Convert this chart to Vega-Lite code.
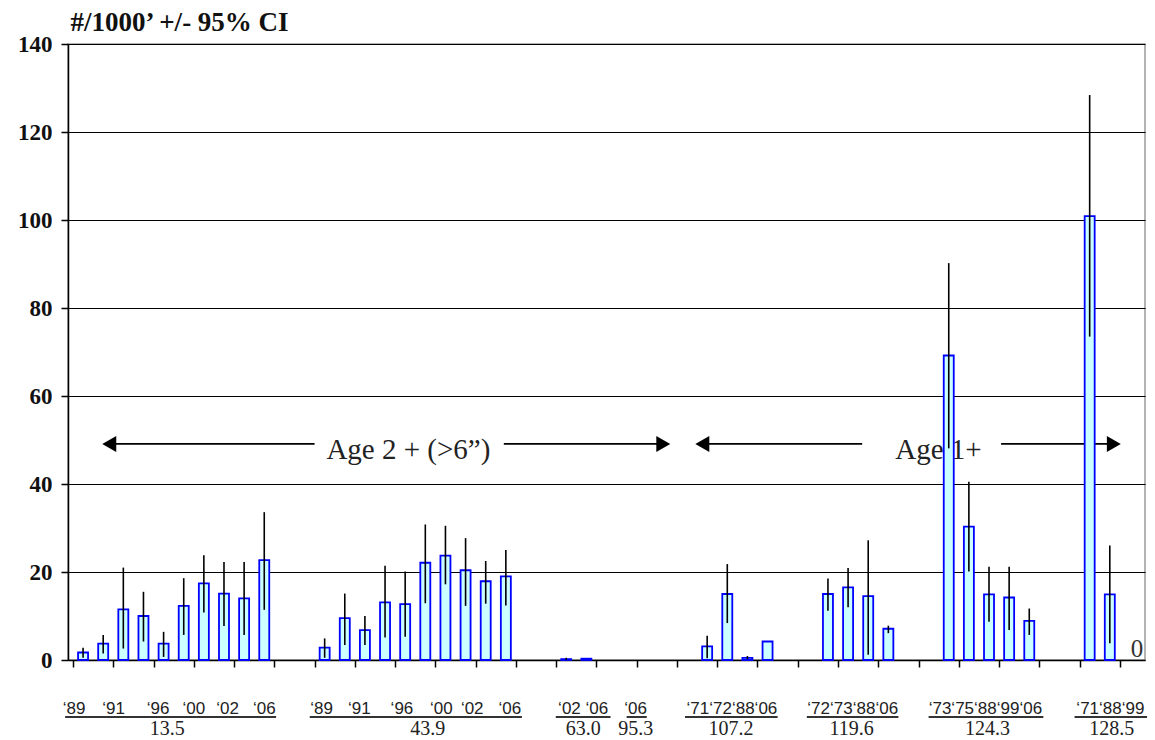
{
  "$schema": "https://vega.github.io/schema/vega-lite/v6.json",
  "width": 1077,
  "height": 616,
  "autosize": {"type": "none"},
  "padding": {"left": 68, "top": 44, "right": 10, "bottom": 80},
  "background": "white",
  "config": {"view": {"stroke": "#9a9a9a", "strokeWidth": 1.5}},
  "datasets": {
    "bars": [
      {"slot": 0, "group": "13.5", "v": 1.7, "lo": 0.5, "hi": 2.8},
      {"slot": 1, "group": "13.5", "v": 3.7, "lo": 1.5, "hi": 5.7},
      {"slot": 2, "group": "13.5", "v": 11.5, "lo": 2.6, "hi": 21.0},
      {"slot": 3, "group": "13.5", "v": 10.0, "lo": 4.2, "hi": 15.5},
      {"slot": 4, "group": "13.5", "v": 3.7, "lo": 0.7, "hi": 6.4},
      {"slot": 5, "group": "13.5", "v": 12.3, "lo": 5.7, "hi": 18.6},
      {"slot": 6, "group": "13.5", "v": 17.4, "lo": 10.8, "hi": 23.8},
      {"slot": 7, "group": "13.5", "v": 15.1, "lo": 7.7, "hi": 22.3},
      {"slot": 8, "group": "13.5", "v": 14.0, "lo": 5.7, "hi": 22.3},
      {"slot": 9, "group": "13.5", "v": 22.7, "lo": 11.4, "hi": 33.6},
      {"slot": 12, "group": "43.9", "v": 2.8, "lo": 0.5, "hi": 4.9},
      {"slot": 13, "group": "43.9", "v": 9.5, "lo": 3.4, "hi": 15.1},
      {"slot": 14, "group": "43.9", "v": 6.8, "lo": 3.4, "hi": 10.0},
      {"slot": 15, "group": "43.9", "v": 13.1, "lo": 5.1, "hi": 21.4},
      {"slot": 16, "group": "43.9", "v": 12.7, "lo": 5.3, "hi": 20.1},
      {"slot": 17, "group": "43.9", "v": 22.1, "lo": 12.9, "hi": 30.8},
      {"slot": 18, "group": "43.9", "v": 23.7, "lo": 17.2, "hi": 30.5},
      {"slot": 19, "group": "43.9", "v": 20.4, "lo": 12.3, "hi": 27.7},
      {"slot": 20, "group": "43.9", "v": 17.9, "lo": 12.8, "hi": 22.5},
      {"slot": 21, "group": "43.9", "v": 19.0, "lo": 12.4, "hi": 25.0},
      {"slot": 24, "group": "63.0", "v": 0.2, "lo": 0.0, "hi": 0.5},
      {"slot": 25, "group": "63.0", "v": 0.3},
      {"slot": 28, "group": "95.3", "v": 0},
      {"slot": 31, "group": "107.2", "v": 3.1, "lo": 0.4, "hi": 5.5},
      {"slot": 32, "group": "107.2", "v": 15.0, "lo": 8.4, "hi": 21.8},
      {"slot": 33, "group": "107.2", "v": 0.5, "lo": 0.2, "hi": 0.9},
      {"slot": 34, "group": "107.2", "v": 4.2},
      {"slot": 37, "group": "119.6", "v": 15.0, "lo": 11.2, "hi": 18.5},
      {"slot": 38, "group": "119.6", "v": 16.5, "lo": 12.0, "hi": 20.9},
      {"slot": 39, "group": "119.6", "v": 14.5, "lo": 1.2, "hi": 27.2},
      {"slot": 40, "group": "119.6", "v": 7.1, "lo": 6.1, "hi": 7.8},
      {"slot": 43, "group": "124.3", "v": 69.2, "lo": 48.1, "hi": 90.2},
      {"slot": 44, "group": "124.3", "v": 30.3, "lo": 20.1, "hi": 40.5},
      {"slot": 45, "group": "124.3", "v": 14.9, "lo": 8.7, "hi": 21.2},
      {"slot": 46, "group": "124.3", "v": 14.2, "lo": 6.8, "hi": 21.2},
      {"slot": 47, "group": "124.3", "v": 8.9, "lo": 5.7, "hi": 11.7},
      {"slot": 50, "group": "128.5", "v": 100.9, "lo": 73.5, "hi": 128.4},
      {"slot": 51, "group": "128.5", "v": 14.9, "lo": 3.8, "hi": 26.0},
      {"slot": 52, "group": "128.5", "v": 0}
    ],
    "segs": [
      {"s": 1.3, "e": 11.5, "y": 49.1},
      {"s": 20.9, "e": 28.8, "y": 49.1},
      {"s": 30.8, "e": 38.7, "y": 49.1},
      {"s": 45.6, "e": 51.2, "y": 49.1}
    ],
    "heads": [
      {"c": 1.3, "y": 49.1, "dir": "left"},
      {"c": 28.82, "y": 49.1, "dir": "right"},
      {"c": 30.76, "y": 49.1, "dir": "left"},
      {"c": 51.2, "y": 49.1, "dir": "right"}
    ],
    "notes": [
      {"t": "Age 2 + (>6”)", "c": 16.16, "y": 45.6},
      {"t": "Age 1+", "c": 42.49, "y": 45.6}
    ],
    "years": [
      {"t": "‘89", "c": -0.45},
      {"t": "‘91", "c": 1.52},
      {"t": "‘96", "c": 3.73},
      {"t": "‘00", "c": 5.5},
      {"t": "‘02", "c": 7.18},
      {"t": "‘06", "c": 9.0},
      {"t": "‘89", "c": 11.85},
      {"t": "‘91", "c": 13.72},
      {"t": "‘96", "c": 15.84},
      {"t": "‘00", "c": 17.8},
      {"t": "‘02", "c": 19.33},
      {"t": "‘06", "c": 21.2},
      {"t": "‘02 ‘06", "c": 24.84},
      {"t": "‘06", "c": 27.45},
      {"t": "‘71‘72‘88‘06", "c": 32.23},
      {"t": "‘72‘73‘88‘06", "c": 38.23},
      {"t": "‘73‘75‘88‘99‘06", "c": 44.82},
      {"t": "‘71‘88‘99", "c": 51.03}
    ],
    "groups": [
      {"t": "13.5", "c": 4.18, "a": -0.89, "b": 9.59},
      {"t": "43.9", "c": 17.12, "a": 11.26, "b": 21.8},
      {"t": "63.0", "c": 24.84, "a": 23.48, "b": 26.2},
      {"t": "95.3", "c": 27.45, "a": 27.0, "b": 28.0},
      {"t": "107.2", "c": 32.18, "a": 29.9, "b": 34.5},
      {"t": "119.6", "c": 38.17, "a": 35.95, "b": 40.5},
      {"t": "124.3", "c": 44.92, "a": 42.0, "b": 47.7},
      {"t": "128.5", "c": 51.1, "a": 49.25, "b": 52.85}
    ]
  },
  "layer": [
    {
      "data": {"name": "segs"},
      "mark": {"type": "rule", "color": "#000", "strokeWidth": 1.8},
      "encoding": {
        "x": {"field": "s", "type": "quantitative", "scale": {"domain": [-0.5, 52.5], "nice": false, "zero": false},
          "axis": {"orient": "bottom", "values": [-0.5, 0.5, 1.5, 2.5, 3.5, 4.5, 5.5, 6.5, 7.5, 8.5, 9.5, 10.5, 11.5, 12.5, 13.5, 14.5, 15.5, 16.5, 17.5, 18.5, 19.5, 20.5, 21.5, 22.5, 23.5, 24.5, 25.5, 26.5, 27.5, 28.5, 29.5, 30.5, 31.5, 32.5, 33.5, 34.5, 35.5, 36.5, 37.5, 38.5, 39.5, 40.5, 41.5, 42.5, 43.5, 44.5, 45.5, 46.5, 47.5, 48.5, 49.5, 50.5, 51.5, 52.5], "labels": false, "title": null, "grid": false, "tickSize": 7, "tickWidth": 1.5, "tickColor": "#000", "domainColor": "#000", "domainWidth": 1.5}},
        "x2": {"field": "e"},
        "y": {"field": "y", "type": "quantitative", "scale": {"domain": [0, 140], "nice": false},
          "axis": {"orient": "left", "values": [0, 20, 40, 60, 80, 100, 120, 140], "title": "#/1000’ +/- 95% CI", "titleAngle": 0, "titleAlign": "left", "titleBaseline": "alphabetic", "titleX": 2, "titleY": -14, "titleFont": "Liberation Serif", "titleFontSize": 27, "titleFontWeight": "bold", "titleColor": "#111", "grid": true, "gridColor": "#000", "gridWidth": 1.2, "gridOpacity": 1, "tickSize": 7, "tickWidth": 1.5, "tickColor": "#000", "domainColor": "#000", "domainWidth": 1.5, "labelFont": "Liberation Serif", "labelFontSize": 23, "labelFontWeight": "bold", "labelColor": "#111", "labelPadding": 9}}
      }
    },
    {
      "data": {"name": "heads"},
      "mark": {"type": "point", "filled": true, "color": "#000", "opacity": 1, "size": 260},
      "encoding": {
        "x": {"field": "c", "type": "quantitative"},
        "y": {"field": "y", "type": "quantitative"},
        "shape": {"field": "dir", "type": "nominal", "scale": {"domain": ["left", "right"], "range": ["triangle-left", "triangle-right"]}, "legend": null}
      }
    },
    {
      "data": {"name": "notes"},
      "mark": {"type": "text", "font": "Liberation Serif", "fontSize": 29, "color": "#222", "baseline": "alphabetic", "align": "center"},
      "encoding": {
        "x": {"field": "c", "type": "quantitative"},
        "y": {"field": "y", "type": "quantitative"},
        "text": {"field": "t"}
      }
    },
    {
      "data": {"name": "bars"},
      "transform": [{"filter": "datum.v > 0"}],
      "mark": {"type": "bar", "width": 10, "fill": "#ccffff", "stroke": "#0000ff", "strokeWidth": 1.8},
      "encoding": {
        "x": {"field": "slot", "type": "quantitative"},
        "y": {"field": "v", "type": "quantitative"}
      }
    },
    {
      "data": {"name": "bars"},
      "transform": [{"filter": "isValid(datum.hi)"}],
      "mark": {"type": "rule", "color": "#000", "strokeWidth": 1.6},
      "encoding": {
        "x": {"field": "slot", "type": "quantitative"},
        "y": {"field": "lo", "type": "quantitative"},
        "y2": {"field": "hi"}
      }
    },
    {
      "data": {"name": "bars"},
      "transform": [{"filter": "datum.slot === 52"}],
      "mark": {"type": "text", "font": "Liberation Serif", "fontSize": 25, "color": "#333", "baseline": "alphabetic", "align": "center", "dx": 7, "dy": -3},
      "encoding": {
        "x": {"field": "slot", "type": "quantitative"},
        "y": {"field": "v", "type": "quantitative"},
        "text": {"field": "v", "type": "quantitative"}
      }
    },
    {
      "data": {"name": "years"},
      "mark": {"type": "text", "font": "Liberation Sans Narrow, Liberation Sans", "fontSize": 17, "color": "#222", "baseline": "alphabetic", "align": "center"},
      "encoding": {
        "x": {"field": "c", "type": "quantitative"},
        "y": {"datum": -12.27, "type": "quantitative"},
        "text": {"field": "t"}
      }
    },
    {
      "data": {"name": "groups"},
      "mark": {"type": "rule", "color": "#333", "strokeWidth": 2},
      "encoding": {
        "x": {"field": "a", "type": "quantitative"},
        "x2": {"field": "b"},
        "y": {"datum": -12.95, "type": "quantitative"}
      }
    },
    {
      "data": {"name": "groups"},
      "mark": {"type": "text", "font": "Liberation Serif", "fontSize": 20, "color": "#222", "baseline": "alphabetic", "align": "center"},
      "encoding": {
        "x": {"field": "c", "type": "quantitative"},
        "y": {"datum": -17.05, "type": "quantitative"},
        "text": {"field": "t"}
      }
    }
  ]
}
